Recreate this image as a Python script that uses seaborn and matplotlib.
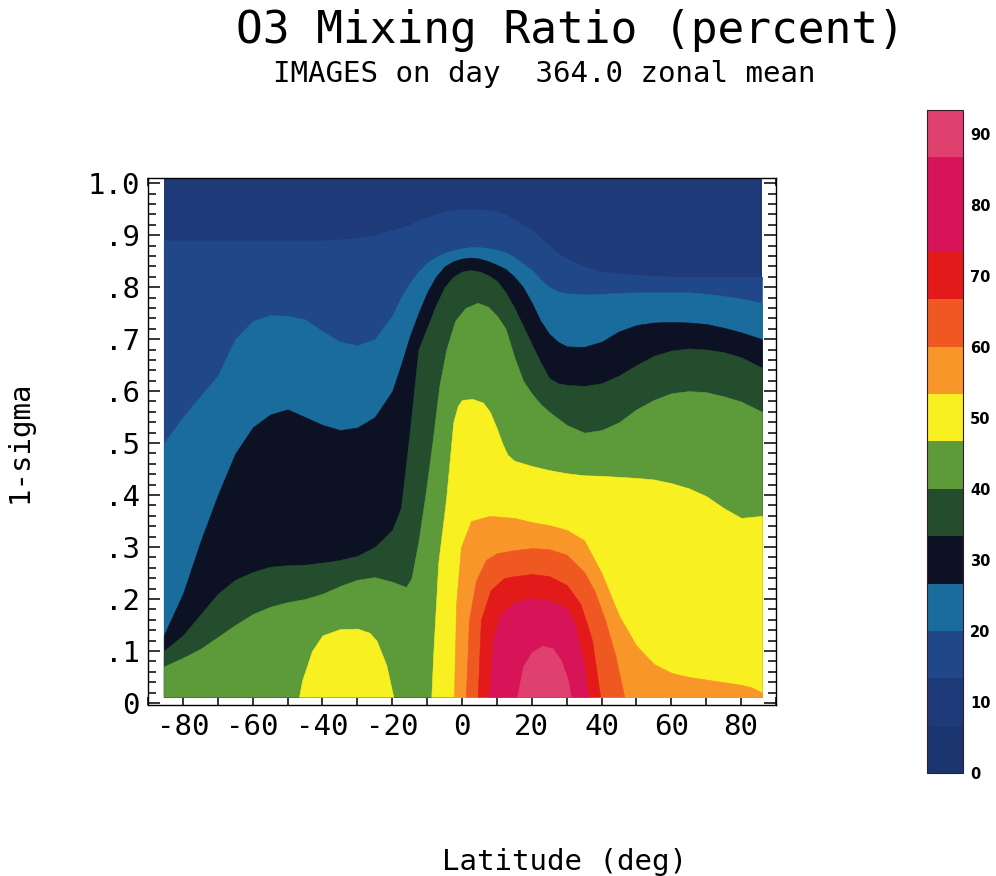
import matplotlib
matplotlib.use("Agg")
import matplotlib.pyplot as plt
import seaborn as sns
from matplotlib.colors import ListedColormap, BoundaryNorm
from matplotlib.ticker import FixedLocator, MultipleLocator, NullLocator

sns.set_theme(style="ticks")
plt.rcParams["font.family"] = ["DejaVu Sans Mono", "DejaVu Sans"]

# ---- colour classes of the O3 field (percent) ----
levels = [0, 6.67, 13.33, 20, 26.67, 33.33, 40, 46.67, 53.33, 60,
          66.67, 73.33, 80, 86.67, 93.33]
band_colors = ["#1b3570", "#1e3a78", "#204888", "#1a6c9c", "#0c1224",
               "#234d2d", "#5c9a3a", "#f8f020", "#f8962a", "#f05822",
               "#e21a1a", "#d81458", "#d81458", "#e0406e"]

# ---- contour crossings: sigma height of each level boundary vs latitude ----
lat_full = [-85.5, -80, -75, -70, -65, -60, -55, -50, -45, -40, -35, -30, -25,
            -20, -17.5, -15, -12.5, -10, -7.5, -5, -2.5, 0, 2.5, 5, 7.5, 10,
            12.5, 15, 17.5, 20, 22.5, 25, 27.5, 30, 35, 40, 45, 50, 55, 60,
            65, 70, 75, 80, 86]

sig_13 = [0.89, 0.89, 0.89, 0.89, 0.89, 0.89, 0.89, 0.89, 0.89, 0.89, 0.892,
          0.895, 0.90, 0.91, 0.915, 0.92, 0.928, 0.935, 0.94, 0.945, 0.948,
          0.95, 0.95, 0.95, 0.948, 0.945, 0.94, 0.93, 0.92, 0.91, 0.895, 0.88,
          0.865, 0.855, 0.84, 0.83, 0.826, 0.824, 0.822, 0.82, 0.82, 0.82,
          0.82, 0.82, 0.82]

sig_20 = [0.50, 0.55, 0.59, 0.63, 0.70, 0.735, 0.746, 0.745, 0.738, 0.715,
          0.695, 0.688, 0.70, 0.745, 0.78, 0.808, 0.83, 0.847, 0.858, 0.866,
          0.871, 0.875, 0.877, 0.877, 0.875, 0.872, 0.867, 0.858, 0.845,
          0.833, 0.815, 0.80, 0.792, 0.788, 0.786, 0.787, 0.789, 0.79, 0.79,
          0.79, 0.79, 0.787, 0.783, 0.778, 0.77]

sig_27 = [0.13, 0.21, 0.31, 0.40, 0.48, 0.53, 0.555, 0.565, 0.55, 0.535,
          0.525, 0.53, 0.55, 0.60, 0.65, 0.705, 0.75, 0.79, 0.82, 0.84, 0.85,
          0.855, 0.857, 0.855, 0.85, 0.843, 0.835, 0.82, 0.80, 0.77, 0.735,
          0.71, 0.695, 0.686, 0.685, 0.695, 0.715, 0.727, 0.732, 0.733,
          0.732, 0.729, 0.722, 0.713, 0.70]

sig_33 = [0.10, 0.13, 0.17, 0.21, 0.237, 0.252, 0.262, 0.265, 0.266, 0.27,
          0.275, 0.283, 0.30, 0.333, 0.375, 0.52, 0.68, 0.722, 0.765, 0.80,
          0.82, 0.83, 0.833, 0.83, 0.823, 0.812, 0.79, 0.76, 0.725, 0.69,
          0.655, 0.625, 0.615, 0.612, 0.61, 0.615, 0.63, 0.65, 0.668, 0.678,
          0.682, 0.68, 0.675, 0.665, 0.645]

lat_40 = [-85.5, -80, -75, -70, -65, -60, -55, -50, -45, -40, -35, -30, -25,
          -20, -16, -14.5, -12.5, -10.5, -8.5, -6.5, -4.5, -2, 1, 4.5, 7.5,
          10, 12.5, 15, 17.5, 20, 22.5, 25, 30, 35, 40, 45, 50, 55, 60, 65,
          70, 75, 80, 86]
sig_40 = [0.07, 0.087, 0.104, 0.127, 0.15, 0.171, 0.185, 0.194, 0.20, 0.21,
          0.225, 0.237, 0.242, 0.233, 0.223, 0.24, 0.31, 0.40, 0.50, 0.61,
          0.68, 0.735, 0.76, 0.77, 0.762, 0.745, 0.72, 0.665, 0.62, 0.595,
          0.575, 0.56, 0.535, 0.52, 0.525, 0.54, 0.565, 0.583, 0.596, 0.60,
          0.598, 0.59, 0.58, 0.56]

lat_47a = [-46.7, -45.8, -43, -40, -35, -30, -26.5, -24.5, -21.7, -19.7]
sig_47a = [0.012, 0.044, 0.10, 0.13, 0.142, 0.143, 0.135, 0.12, 0.073, 0.012]

lat_47b = [-8.8, -8.2, -6.8, -4.6, -2.5, -1.2, 0, 3, 6, 8, 10, 11.5, 13,
           15, 20, 25, 30, 35, 40, 45, 50, 55, 60, 65, 70, 75, 80, 86]
sig_47b = [0.012, 0.10, 0.27, 0.39, 0.54, 0.572, 0.583, 0.585, 0.578, 0.56,
           0.528, 0.50, 0.478, 0.466, 0.456, 0.448, 0.442, 0.438, 0.437,
           0.435, 0.433, 0.43, 0.423, 0.413, 0.398, 0.375, 0.356, 0.36]

lat_53 = [-2.3, -1.7, -0.3, 2.6, 8, 15, 20, 25, 30, 35, 40, 45, 50, 55, 60,
          65, 70, 75, 80, 83, 86]
sig_53 = [0.012, 0.19, 0.30, 0.35, 0.36, 0.356, 0.348, 0.342, 0.333, 0.313,
          0.25, 0.168, 0.11, 0.075, 0.058, 0.05, 0.045, 0.04, 0.035, 0.03,
          0.02]

lat_60 = [1.1, 2, 4, 6.8, 10, 15, 20, 25, 30, 35, 38, 41, 44, 46.5]
sig_60 = [0.012, 0.16, 0.235, 0.275, 0.288, 0.294, 0.298, 0.296, 0.285,
          0.252, 0.215, 0.16, 0.09, 0.012]

lat_67 = [4.5, 5.4, 8.2, 12, 15, 20, 25, 30, 34, 37.3, 39.6]
sig_67 = [0.012, 0.16, 0.217, 0.24, 0.244, 0.248, 0.244, 0.227, 0.19, 0.12,
          0.012]

lat_73 = [7.7, 8.8, 11, 15, 20, 25, 30, 32.4, 34.7, 36.1]
sig_73 = [0.012, 0.12, 0.17, 0.194, 0.202, 0.198, 0.183, 0.15, 0.083, 0.012]

lat_87 = [15.8, 17.5, 20, 23, 26, 28.5, 30.3, 31.2]
sig_87 = [0.012, 0.07, 0.098, 0.11, 0.105, 0.08, 0.045, 0.012]

# (colour class above the boundary, latitudes, heights), painted low to high
boundaries = [
    (2, lat_full, sig_13),
    (3, lat_full, sig_20),
    (4, lat_full, sig_27),
    (5, lat_full, sig_33),
    (6, lat_40, sig_40),
    (7, lat_47a, sig_47a),
    (7, lat_47b, sig_47b),
    (8, lat_53, sig_53),
    (9, lat_60, sig_60),
    (10, lat_67, sig_67),
    (11, lat_73, sig_73),
    (13, lat_87, sig_87),
]

x_ticks = [-80, -60, -40, -20, 0, 20, 40, 60, 80]
x_tick_labels = ["-80", "-60", "-40", "-20", "0", "20", "40", "60", "80"]
y_ticks = [0, 0.1, 0.2, 0.3, 0.4, 0.5, 0.6, 0.7, 0.8, 0.9, 1.0]
y_tick_labels = ["0", ".1", ".2", ".3", ".4", ".5", ".6", ".7", ".8", ".9",
                 "1.0"]
cbar_ticks = [0, 10, 20, 30, 40, 50, 60, 70, 80, 90]

sig_bottom, sig_top = 0.012, 1.02

fig = plt.figure(figsize=(9.96, 8.76), dpi=100)
ax = fig.add_axes([0.1486, 0.1952, 0.6305, 0.6016])
ax.set_facecolor("white")

# field background, then every class region below its boundary
ax.fill_between([lat_full[0], lat_full[-1]], sig_bottom, sig_top,
                color=band_colors[1], lw=0)
for cls, lats, sigs in boundaries:
    ax.fill_between(lats, sig_bottom, sigs, color=band_colors[cls],
                    lw=0.4, edgecolor=band_colors[cls])

ax.set_xlim(-90, 90)
ax.set_ylim(-0.004, 1.01)
ax.xaxis.set_major_locator(FixedLocator(x_ticks))
ax.set_xticklabels(x_tick_labels)
ax.xaxis.set_minor_locator(MultipleLocator(10))
ax.yaxis.set_major_locator(FixedLocator(y_ticks))
ax.set_yticklabels(y_tick_labels)
ax.yaxis.set_minor_locator(MultipleLocator(0.02))
ax.tick_params(which="both", direction="in", top=True, right=True,
               color="black", width=1.1)
ax.tick_params(which="major", length=8.5, labelsize=21, pad=6,
               labelcolor="black")
ax.tick_params(which="minor", length=5.5)
for sp in ax.spines.values():
    sp.set_color("black")
    sp.set_linewidth(1.0)

ax.set_xlabel("Latitude (deg)", fontsize=21, color="black")
ax.xaxis.set_label_coords(0.664, -0.272)
ax.set_ylabel("1-sigma", fontsize=21, color="black")
ax.yaxis.set_label_coords(-0.183, 0.5)

fig.text(570 / 996, 1 - 31 / 876, "O3 Mixing Ratio (percent)", fontsize=32,
         ha="center", va="center", color="black")
fig.text(544 / 996, 1 - 74 / 876, "IMAGES on day  364.0 zonal mean",
         fontsize=21, ha="center", va="center", color="black")

# colour bar
cmap = ListedColormap(band_colors)
norm = BoundaryNorm(levels, cmap.N)
sm = plt.cm.ScalarMappable(norm=norm, cmap=cmap)
cax = fig.add_axes([0.9307, 0.1176, 0.0361, 0.7568])
cb = fig.colorbar(sm, cax=cax, ticks=cbar_ticks, spacing="proportional")
cb.ax.yaxis.set_minor_locator(NullLocator())
cb.ax.tick_params(which="both", length=0, left=False, pad=5,
                  labelsize=10.5, labelcolor="black")
for t in cb.ax.get_yticklabels():
    t.set_fontfamily("DejaVu Sans")
    t.set_fontweight("bold")
cb.outline.set_linewidth(0.8)
cb.outline.set_edgecolor("#3a1a2a")

fig.savefig("out.png", dpi=100)
